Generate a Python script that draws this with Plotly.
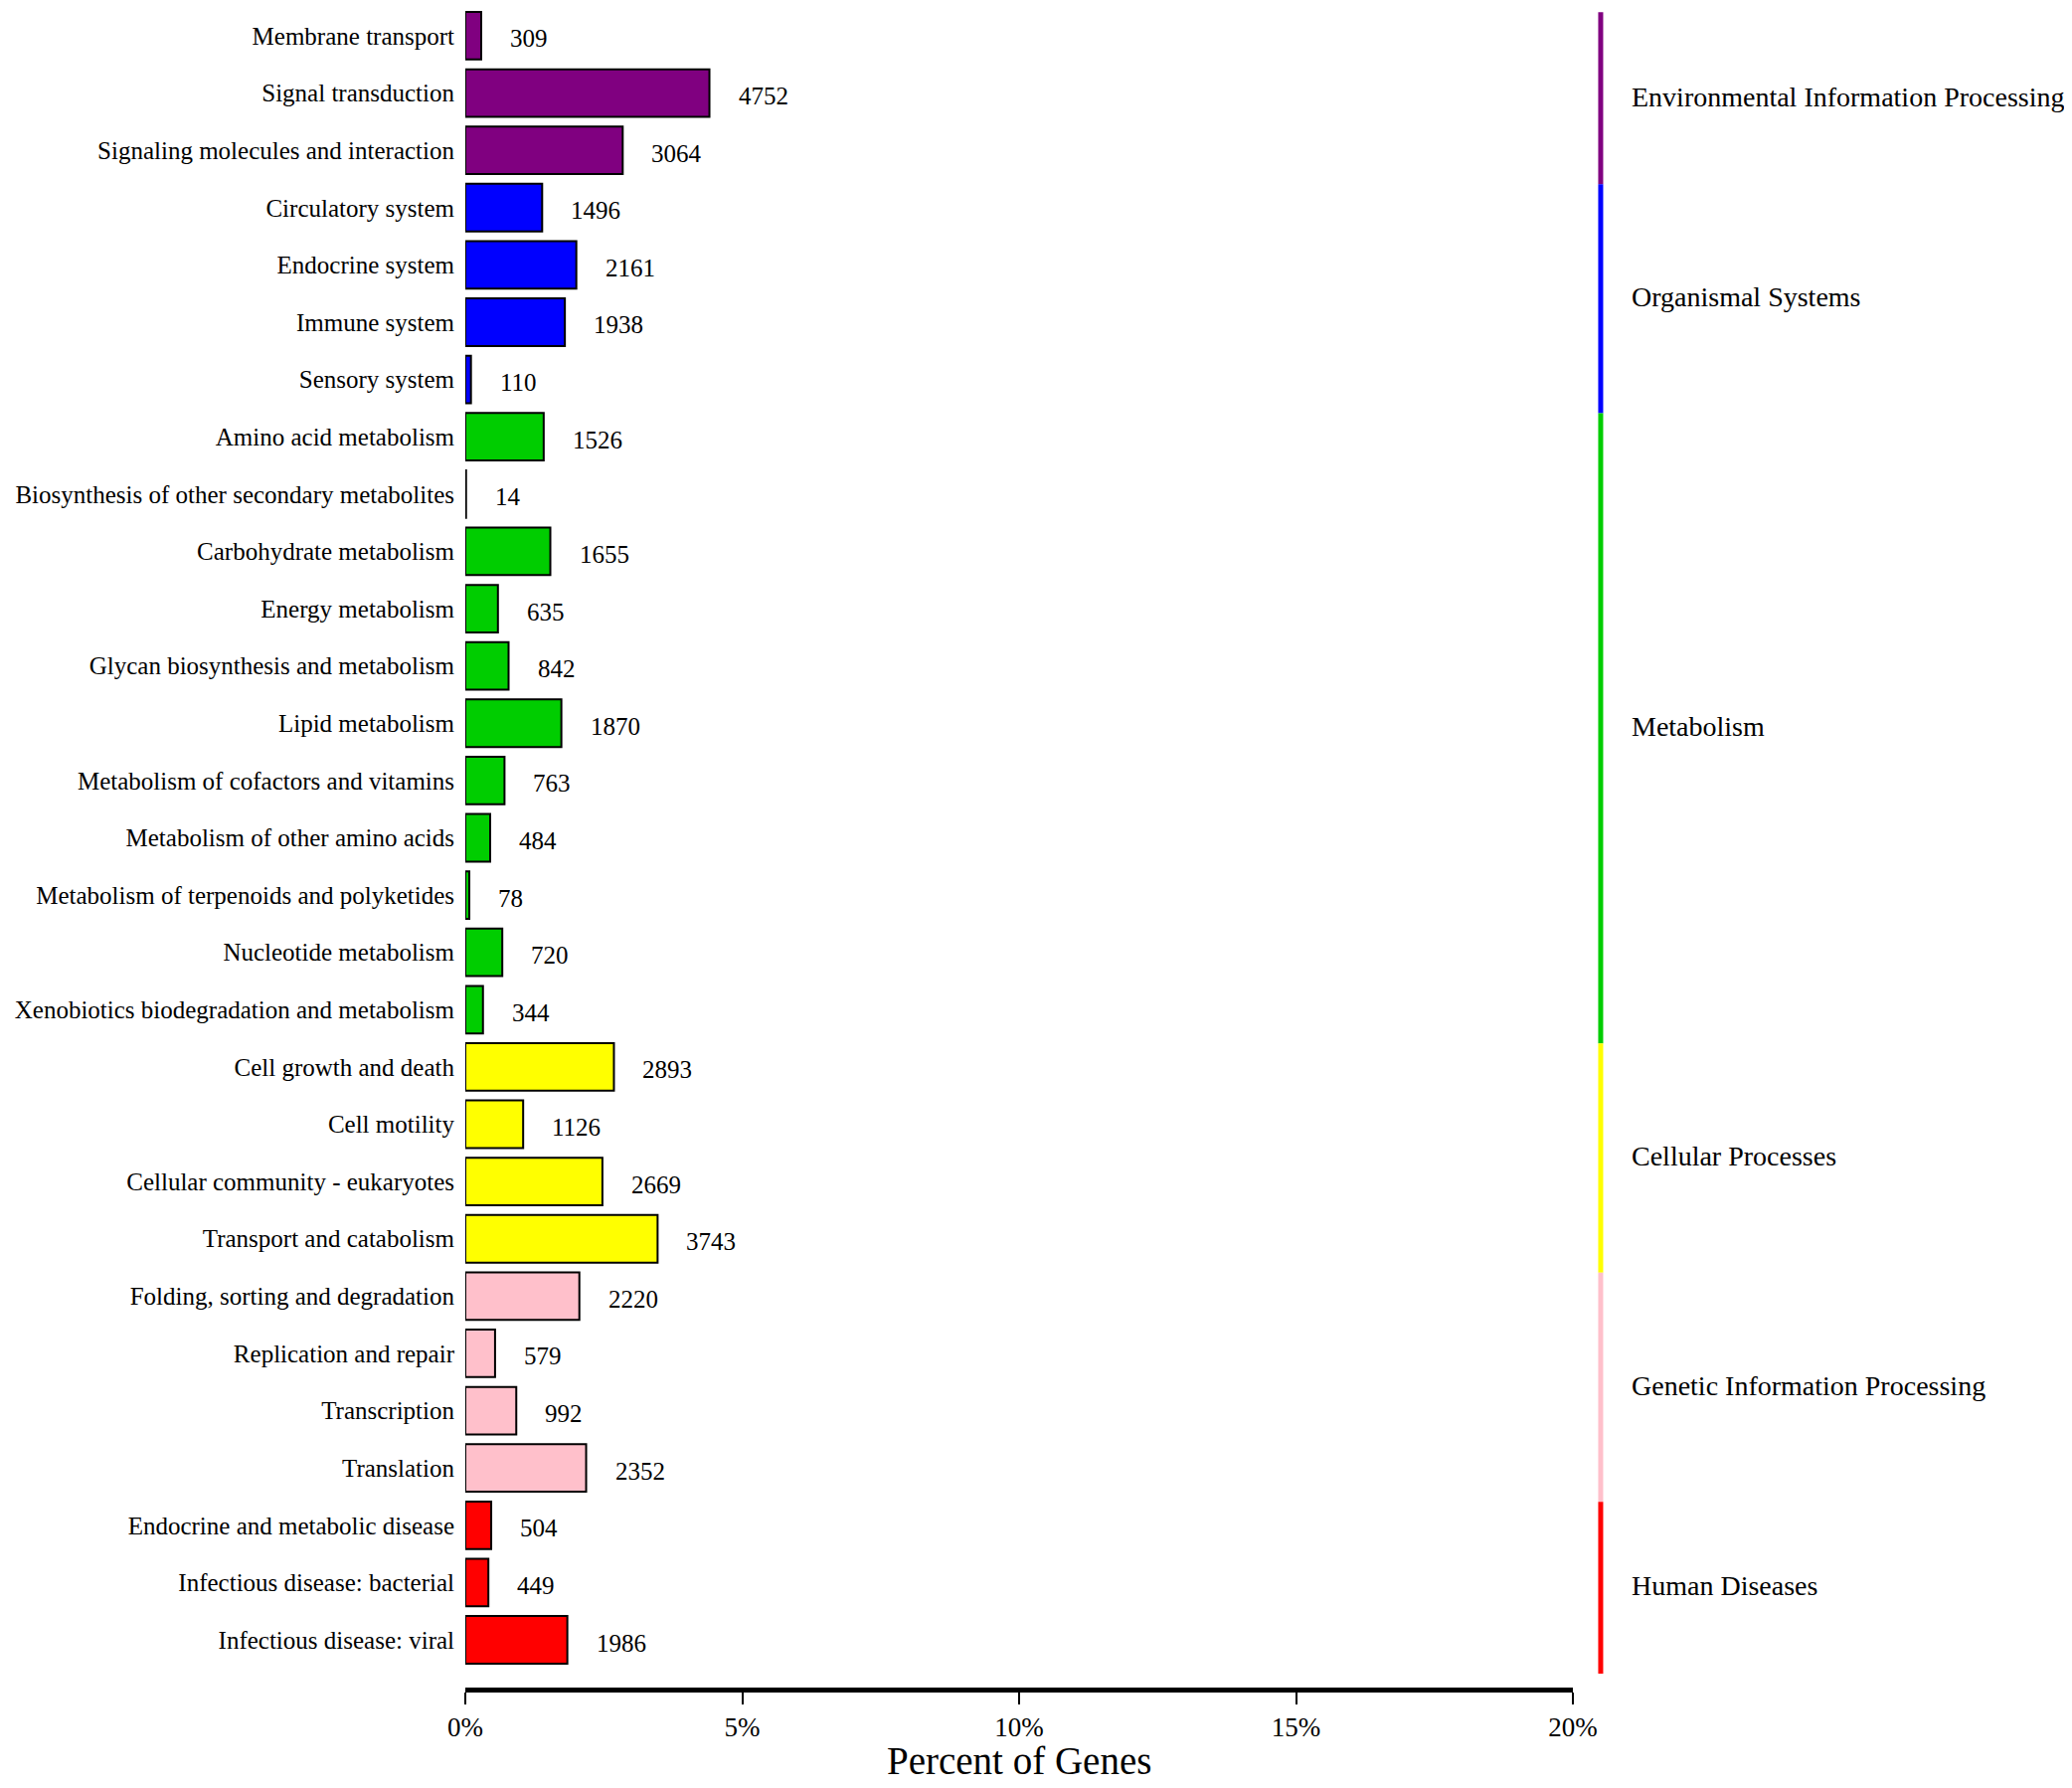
import plotly.graph_objects as go

categories = [
    "Membrane transport", "Signal transduction", "Signaling molecules and interaction",
    "Circulatory system", "Endocrine system", "Immune system", "Sensory system",
    "Amino acid metabolism", "Biosynthesis of other secondary metabolites",
    "Carbohydrate metabolism", "Energy metabolism", "Glycan biosynthesis and metabolism",
    "Lipid metabolism", "Metabolism of cofactors and vitamins", "Metabolism of other amino acids",
    "Metabolism of terpenoids and polyketides", "Nucleotide metabolism",
    "Xenobiotics biodegradation and metabolism",
    "Cell growth and death", "Cell motility", "Cellular community - eukaryotes",
    "Transport and catabolism",
    "Folding, sorting and degradation", "Replication and repair", "Transcription", "Translation",
    "Endocrine and metabolic disease", "Infectious disease: bacterial", "Infectious disease: viral",
]
gene_counts = [
    309, 4752, 3064,
    1496, 2161, 1938, 110,
    1526, 14, 1655, 635, 842, 1870, 763, 484, 78, 720, 344,
    2893, 1126, 2669, 3743,
    2220, 579, 992, 2352,
    504, 449, 1986,
]
group_names = [
    "Environmental Information Processing", "Organismal Systems", "Metabolism",
    "Cellular Processes", "Genetic Information Processing", "Human Diseases",
]
group_sizes = [3, 4, 11, 4, 4, 3]
group_colors = ["#800080", "#0000FF", "#00CD00", "#FFFF00", "#FFC0CB", "#FF0000"]
total_genes = 107800  # denominator for "Percent of Genes"
x_tick_values = [0, 5, 10, 15, 20]
x_tick_labels = ["0%", "5%", "10%", "15%", "20%"]

FONT = "Liberation Serif"

percents = [c / total_genes * 100 for c in gene_counts]
bar_colors = []
for col, n in zip(group_colors, group_sizes):
    bar_colors += [col] * n

fig = go.Figure()
fig.add_trace(go.Bar(
    x=percents, y=categories, orientation="h",
    marker=dict(color=bar_colors, line=dict(color="black", width=2)),
    hoverinfo="skip", showlegend=False,
))

annotations = []
for cat, p, c in zip(categories, percents, gene_counts):
    annotations.append(dict(
        x=p, y=cat, xref="x", yref="y", text=str(c), showarrow=False,
        xanchor="left", yanchor="middle", xshift=27, yshift=-3,
        font=dict(family=FONT, size=25, color="black"),
    ))

shapes = []
start = 0
for name, n, col in zip(group_names, group_sizes, group_colors):
    first, last = start, start + n - 1
    shapes.append(dict(
        type="line", xref="paper", yref="y", x0=1.0251, x1=1.0251,
        y0=first - 0.41, y1=last + 0.59, line=dict(color=col, width=5),
    ))
    annotations.append(dict(
        x=1.0512, y=(first + last) / 2 + 0.06, xref="paper", yref="y", text=name,
        showarrow=False, xanchor="left", yanchor="middle",
        font=dict(family=FONT, size=28, color="black"),
    ))
    start += n

annotations.append(dict(
    x=0.5, y=0, xref="paper", yref="paper", text="Percent of Genes", showarrow=False,
    xanchor="center", yanchor="middle", yshift=-73,
    font=dict(family=FONT, size=39, color="black"),
))

fig.update_layout(
    width=2076, height=1790,
    margin=dict(l=460, r=502, t=0, b=101),
    paper_bgcolor="white", plot_bgcolor="white",
    bargap=0.17,
    font=dict(family=FONT, color="black"),
    xaxis=dict(
        range=[0, 20], tickvals=x_tick_values, ticktext=x_tick_labels,
        showgrid=False, zeroline=False,
        showline=True, linecolor="black", linewidth=5,
        ticks="outside", ticklen=12, tickwidth=2, tickcolor="black",
        tickfont=dict(family=FONT, size=27, color="black"),
    ),
    yaxis=dict(
        type="category", categoryorder="array", categoryarray=categories,
        range=[28.833, -0.485],
        showgrid=False, zeroline=False, showline=False, ticks="",
        ticklabelstandoff=10,
        tickfont=dict(family=FONT, size=25, color="black"),
    ),
    annotations=annotations, shapes=shapes,
)

fig.write_html("out.html")
